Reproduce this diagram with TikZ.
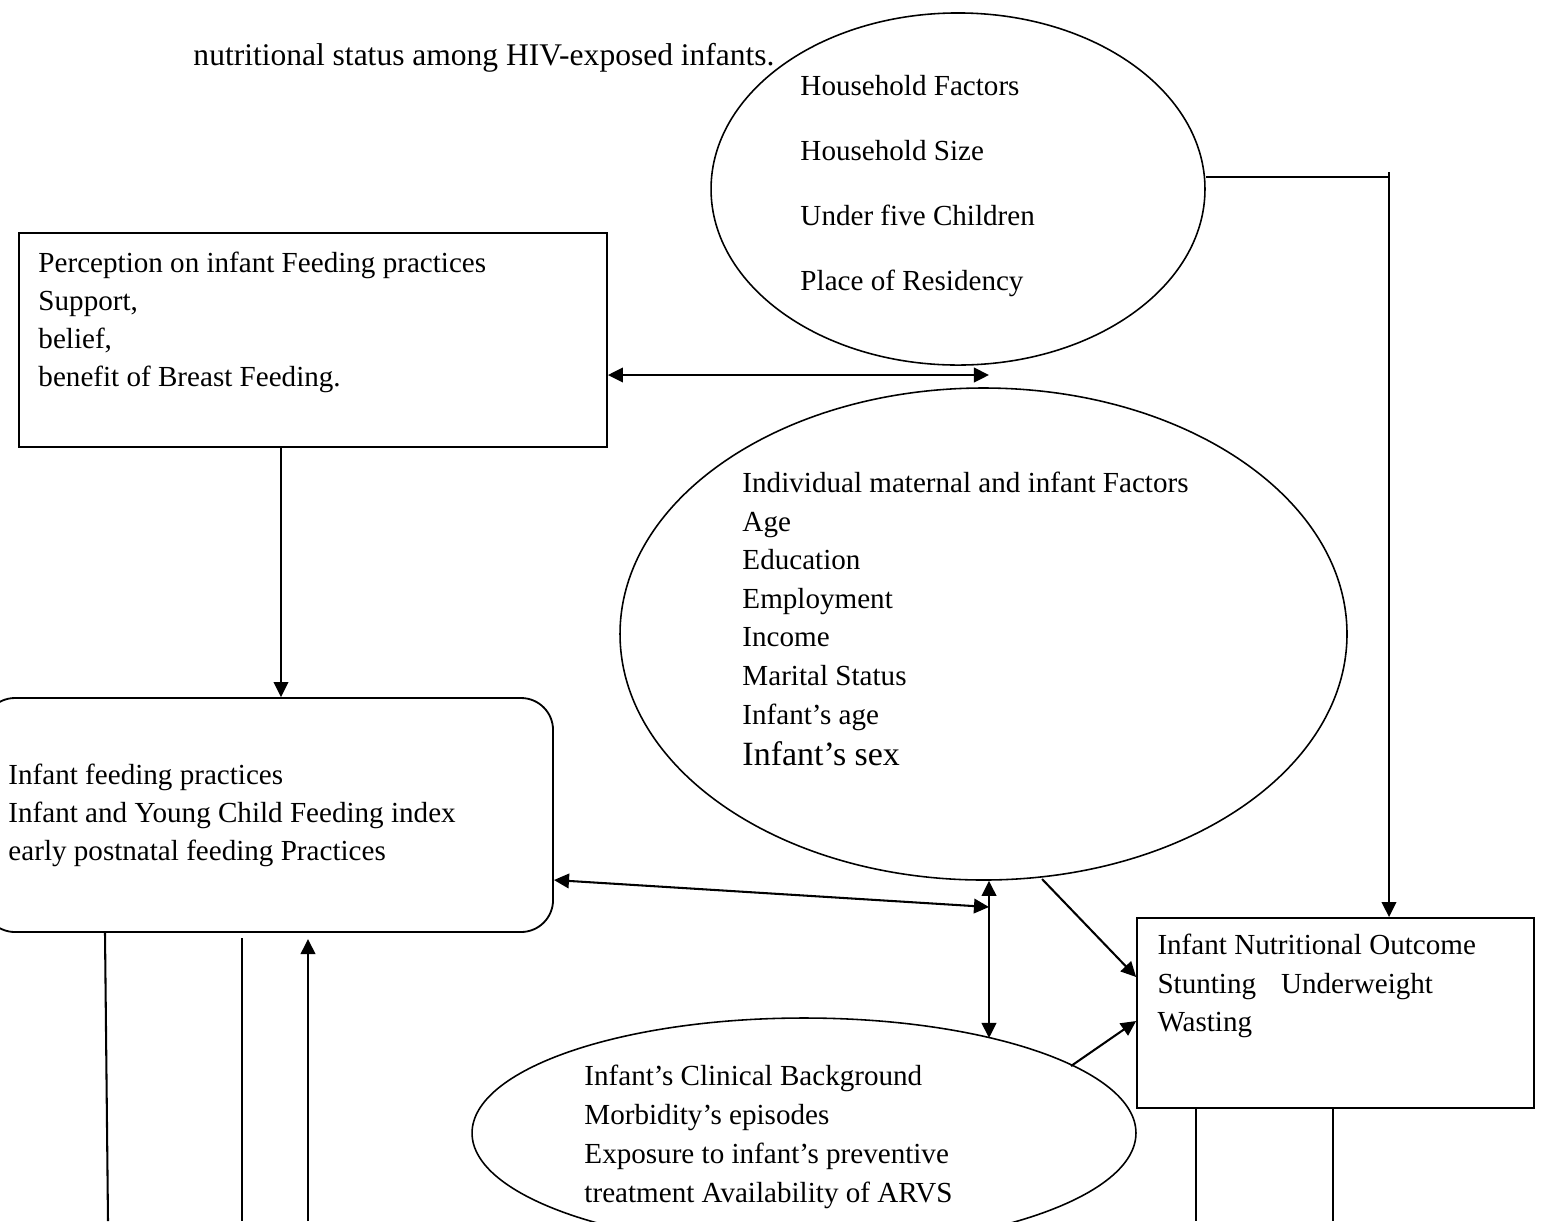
\documentclass[tikz,border=0pt]{standalone}
\usepackage{fontspec}
\setmainfont{Liberation Serif}
\usetikzlibrary{arrows.meta,shapes.geometric}
\begin{document}
\begin{tikzpicture}[x=0.4124pt,y=-0.4124pt,
  shp/.style={draw,line width=0.75pt,inner sep=0pt},
  oval/.style={shp,ellipse,line width=0.65pt},
  lbl/.style={anchor=base west,inner sep=0pt,font=\fontsize{12pt}{14pt}\selectfont},
  big/.style={lbl,font=\fontsize{14pt}{16pt}\selectfont},
  ttl/.style={lbl,font=\fontsize{13pt}{15pt}\selectfont},
  con/.style={line width=0.85pt},
  arr/.style={con,-{Triangle[length=6.2pt,width=6pt]}},
  darr/.style={con,{Triangle[length=6.2pt,width=6pt]}-{Triangle[length=6.2pt,width=6pt]}}]
\useasboundingbox (0,0) rectangle (1542,1221);
\clip (0,0) rectangle (1542,1221);
\fill[white] (0,0) rectangle (1542,1221);

% shapes
\node[shp,minimum width=242.5pt,minimum height=88.25pt] (r1) at (313,340) {};
\node[shp,rounded corners=13.2pt,minimum width=235.1pt,minimum height=96.5pt] (rr) at (268,815) {};
\node[shp,minimum width=163.7pt,minimum height=78.4pt] (r2) at (1335.5,1013) {};
\node[oval,minimum width=203.7pt,minimum height=145.2pt] (e1) at (958,189) {};
\node[oval,minimum width=299.8pt,minimum height=202.9pt] (e2) at (983.5,634) {};
\node[oval,minimum width=273.8pt,minimum height=94.85pt] (e3) at (804,1133) {};

% title
\node[ttl] (title) at (193,65) {nutritional status among HIV-exposed infants.};

% household
\node[lbl] (h1) at (800,95) {Household Factors};
\node[lbl] (h2) at (800,160) {Household Size};
\node[lbl] (h3) at (800,225) {Under five Children};
\node[lbl] (h4) at (800,290) {Place of Residency};

% perception
\node[lbl] (p1t) at (38,272) {Perception on infant Feeding practices};
\node[lbl] (p2t) at (38,310) {Support,};
\node[lbl] (p3t) at (38,348) {belief,};
\node[lbl] (p4t) at (38,386) {benefit of Breast Feeding.};

% individual
\node[lbl] (i1) at (742,492) {Individual maternal and infant Factors};
\node[lbl] (i2) at (742,531) {Age};
\node[lbl] (i3) at (742,569) {Education};
\node[lbl] (i4) at (742,608) {Employment};
\node[lbl] (i5) at (742,646) {Income};
\node[lbl] (i6) at (742,685) {Marital Status};
\node[lbl] (i7) at (742,724) {Infant’s age};
\node[big] (i8) at (742,765) {Infant’s sex};

% feeding practices
\node[lbl] (f1) at (8,784) {Infant feeding practices};
\node[lbl] (f2) at (8,822) {Infant and Young Child Feeding index};
\node[lbl] (f3) at (8,860) {early postnatal feeding Practices};

% outcome
\node[lbl] (o1) at (1157,954) {Infant Nutritional Outcome};
\node[lbl] (o2) at (1157,993) {Stunting\hspace{10.3pt}Underweight};
\node[lbl] (o3) at (1157,1031) {Wasting};

% clinical
\node[lbl] (c1t) at (584,1085) {Infant’s Clinical Background};
\node[lbl] (c2t) at (584,1124) {Morbidity’s episodes};
\node[lbl] (c3t) at (584,1163) {Exposure to infant’s preventive};
\node[lbl] (c4t) at (584,1202) {treatment Availability of ARVS};

% connectors
\coordinate (j) at (1389,177);
\coordinate (jt) at (1389,172);
\draw[con] (e1.east |- j) -- (j);
\draw[arr] (jt) -- (jt |- r2.north);

\coordinate (pa) at (989,375);
\draw[darr] (r1.east |- pa) -- (pa);

\coordinate (v1) at (281,0);
\draw[arr] (r1.south -| v1) -- (rr.north -| v1);

\coordinate (qa) at (989,907);
\coordinate (qb) at (0,880);
\draw[darr] (rr.east |- qb) -- (qa);

\coordinate (v2) at (989,0);
\coordinate (e3v) at (989,1038);
\draw[darr] (e2.south -| v2) -- (e3v);

\coordinate (e2d) at (1042,879);
\coordinate (ya) at (0,977);
\draw[arr] (e2d) -- (r2.west |- ya);

\coordinate (e3d) at (1071,1066);
\coordinate (yb) at (0,1021);
\draw[arr] (e3d) -- (r2.west |- yb);

% bottom lines
\coordinate (b1t) at (105,0);
\coordinate (b1) at (108,1221);
\draw[con] (rr.south -| b1t) -- (b1);
\coordinate (b2t) at (242,938);
\coordinate (b2) at (242,1221);
\draw[con] (b2t) -- (b2);
\coordinate (b3t) at (308,939);
\coordinate (b3) at (308,1221);
\draw[arr] (b3) -- (b3t);
\coordinate (d1) at (1196,1221);
\draw[con] (r2.south -| d1) -- (d1);
\coordinate (d2) at (1333,1221);
\draw[con] (r2.south -| d2) -- (d2);
\end{tikzpicture}
\end{document}
